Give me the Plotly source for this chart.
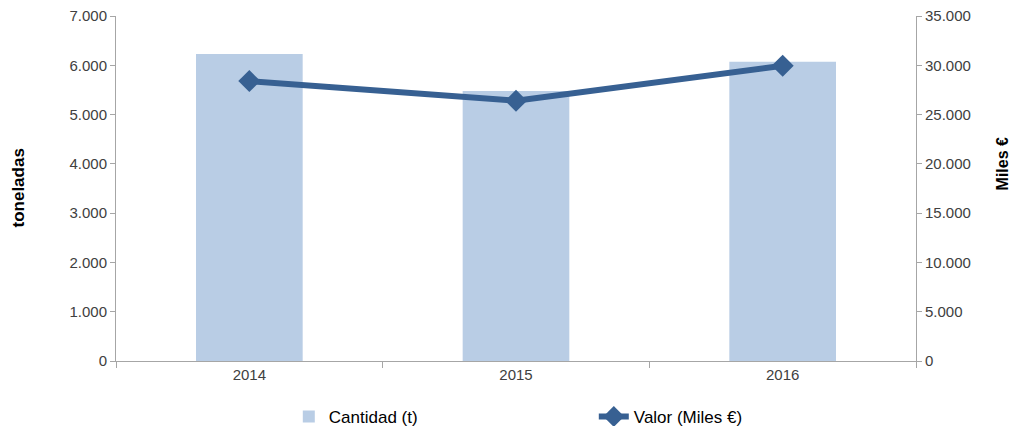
import plotly.graph_objects as go

years = ["2014", "2015", "2016"]
cantidad = [6230, 5480, 6070]
valor = [28400, 26400, 29950]
left_ticks = [0, 1000, 2000, 3000, 4000, 5000, 6000, 7000]
right_ticks = [0, 5000, 10000, 15000, 20000, 25000, 30000, 35000]

bar_color = "#B9CDE5"
line_color = "#376092"
axis_color = "#A6A6A6"
font_color = "#404040"

fig = go.Figure()
fig.add_trace(go.Bar(
    x=years, y=cantidad, name="Cantidad (t)",
    marker=dict(color=bar_color, line=dict(width=0)),
    width=0.4, yaxis="y",
))
fig.add_trace(go.Scatter(
    x=years, y=valor, name="Valor (Miles €)", mode="lines+markers",
    line=dict(color=line_color, width=6),
    marker=dict(symbol="diamond", size=17, color=line_color),
    yaxis="y2",
))

fig.update_layout(
    width=1008, height=418,
    margin=dict(l=108, r=100, t=8, b=65, autoexpand=False),
    plot_bgcolor="white", paper_bgcolor="white",
    separators=",.",
    font=dict(family="Liberation Sans, Arial, sans-serif", size=15, color=font_color),
    xaxis=dict(
        showline=True, linecolor=axis_color, linewidth=1,
        ticks="outside", tickson="boundaries", ticklen=6, tickcolor=axis_color,
        showgrid=False, automargin=False,
    ),
    yaxis=dict(
        range=[0, 7000], tickvals=left_ticks, tickformat=",d",
        showline=True, linecolor=axis_color, linewidth=1,
        ticks="outside", ticklen=5, tickcolor=axis_color,
        showgrid=False, zeroline=False, automargin=False,
        ticklabeloverflow="allow",
    ),
    yaxis2=dict(
        range=[0, 35000], tickvals=right_ticks, tickformat=",d",
        overlaying="y", side="right",
        showline=True, linecolor=axis_color, linewidth=1,
        ticks="outside", ticklen=5, tickcolor=axis_color,
        showgrid=False, zeroline=False, automargin=False,
        ticklabeloverflow="allow",
    ),
    annotations=[
        dict(text="<b>toneladas</b>", xref="paper", yref="paper", x=-0.1225, y=0.5,
             textangle=-90, showarrow=False, font=dict(size=17, color="black"),
             xanchor="center", yanchor="middle"),
        dict(text="<b>Miles €</b>", xref="paper", yref="paper", x=1.108, y=0.571,
             textangle=-90, showarrow=False, font=dict(size=16, color="black"),
             xanchor="center", yanchor="middle"),
    ],
    legend=dict(
        orientation="h", x=0.216, xanchor="left", y=-0.11, yanchor="top",
        font=dict(size=17, color="black"), entrywidth=260, entrywidthmode="pixels",
    ),
    showlegend=True,
)

fig.write_html("out.html")
